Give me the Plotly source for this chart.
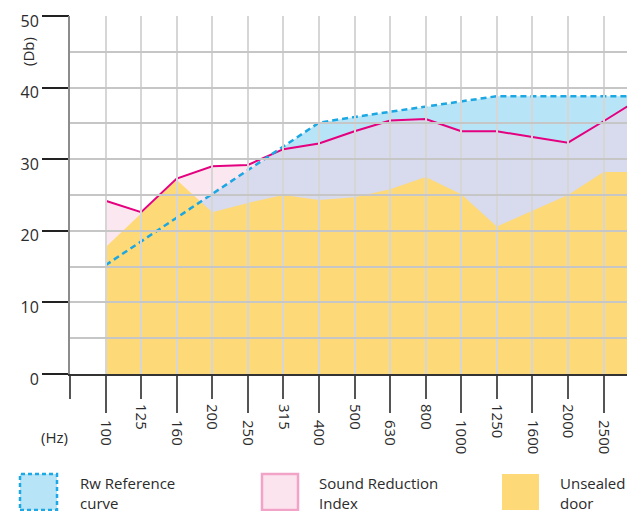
import plotly.graph_objects as go

# ---- data ----
freqs = ["100", "125", "160", "200", "250", "315", "400", "500", "630",
         "800", "1000", "1250", "1600", "2000", "2500", "3150"]
rw_reference = [15.2, 18.5, 21.8, 25.1, 28.4, 31.7, 35.1, 35.9, 36.6,
                37.3, 38.0, 38.8, 38.8, 38.8, 38.8, 38.8]
sound_reduction = [24.2, 22.6, 27.3, 29.0, 29.2, 31.4, 32.2, 33.9, 35.4,
                   35.6, 33.9, 33.9, 33.1, 32.3, 35.3, 38.4]
unsealed_door = [17.7, 22.4, 27.1, 22.6, 23.9, 25.0, 24.3, 24.7, 25.8,
                 27.5, 25.1, 20.6, 22.8, 25.0, 28.2, 28.2]
y_ticks = [0, 10, 20, 30, 40, 50]
legend_labels = ["Rw Reference<br>curve", "Sound Reduction<br>Index", "Unsealed<br>door"]

# ---- geometry (screen pixels) ----
W, H = 627, 511
L, T = 70, 16
BOTTOM = 374
R = 0
B = H - BOTTOM
PW, PH = W - L - R, H - T - B
FONT = "Open Sans"
idx = list(range(len(freqs)))
x_range = [-1, -1 + PW / 35.57]


def px(x):
    return (x - L) / PW


def py(y):
    return (BOTTOM - y) / PH


BLUE_FILL = "#b8e4f8"
PINK_FILL = "rgba(247,207,225,0.5)"
YELLOW = "#fdd978"
PINK_LINE = "#e4007f"
BLUE_LINE = "#1aa7e2"
TEXT = "#2b2b2b"

fig = go.Figure()
fig.add_trace(go.Scatter(x=idx, y=rw_reference, mode="none", fill="tozeroy",
                         fillcolor=BLUE_FILL, hoverinfo="skip"))
fig.add_trace(go.Scatter(x=idx, y=sound_reduction, mode="none", fill="tozeroy",
                         fillcolor=PINK_FILL, hoverinfo="skip"))
fig.add_trace(go.Scatter(x=idx, y=unsealed_door, mode="none", fill="tozeroy",
                         fillcolor=YELLOW, hoverinfo="skip"))
fig.add_trace(go.Scatter(x=idx, y=sound_reduction, mode="lines",
                         line=dict(color=PINK_LINE, width=2), hoverinfo="skip"))
fig.add_trace(go.Scatter(x=idx, y=rw_reference, mode="lines",
                         line=dict(color=BLUE_LINE, width=2.5, dash="6px,4px"),
                         hoverinfo="skip"))
# empty trace so that the overlay grid subplot (drawn above the fills) exists
fig.add_trace(go.Scatter(x=[], y=[], xaxis="x2", yaxis="y2", mode="lines",
                         hoverinfo="skip"))

even = [i for i in idx if i % 2 == 0]
all_ticks = [-1] + idx
odd_text = [""] + [f if i % 2 == 1 else "" for i, f in zip(idx, freqs)]

tickfont = dict(family=FONT, size=15, color=TEXT)

fig.update_layout(
    width=W, height=H,
    margin=dict(l=L, r=R, t=T, b=B),
    paper_bgcolor="white", plot_bgcolor="rgba(0,0,0,0)",
    showlegend=False,
    font=dict(family=FONT, size=15, color=TEXT),
    xaxis=dict(range=x_range, showgrid=False, zeroline=False, showline=False,
               tickmode="array", tickvals=even, ticktext=[freqs[i] for i in even],
               ticks="outside", ticklen=38, tickwidth=2, tickcolor="#555555",
               tickangle=90, tickfont=tickfont, ticklabelstandoff=4),
    yaxis=dict(range=[0, 50], showgrid=False, zeroline=False, showline=False,
               tickmode="array", tickvals=y_ticks,
               ticks="outside", ticklen=27, tickwidth=2, tickcolor="#222222",
               tickfont=dict(family=FONT, size=16, color=TEXT), ticklabelshift=5),
    xaxis2=dict(range=x_range, anchor="y2", domain=[0, 1],
                showgrid=True, gridcolor="#d6d6d6", gridwidth=2,
                zeroline=False, showline=True, linecolor="#333333", linewidth=2,
                tickmode="array", tickvals=all_ticks, ticktext=odd_text,
                ticks="outside", ticklen=23, tickwidth=2, tickcolor="#555555",
                tickangle=90, tickfont=tickfont, ticklabelstandoff=2),
    yaxis2=dict(range=[0, 50], anchor="x2", domain=[0, 1],
                showgrid=True, gridcolor="#c6c6c6", gridwidth=1.5, dtick=5,
                zeroline=False, showline=True, linecolor="#8c8c8c", linewidth=2,
                showticklabels=False, ticks=""),
)

# axis unit labels
fig.add_annotation(text="(Db)", xref="paper", yref="paper", x=px(28), y=py(52),
                   xanchor="center", yanchor="middle",
                   textangle=-90, showarrow=False, font=dict(family=FONT, size=15, color=TEXT))
fig.add_annotation(text="(Hz)", xref="paper", yref="paper", x=px(54), y=py(437),
                   xanchor="center", yanchor="middle",
                   showarrow=False, font=dict(family=FONT, size=15, color=TEXT))

# legend
boxes = [
    dict(x0=20, x1=57, fill=BLUE_FILL, line=dict(color="#1ca8e4", width=2.5, dash="4px,3px")),
    dict(x0=262, x1=298, fill="#fce4ee", line=dict(color="#f2a3c8", width=2.5)),
    dict(x0=502, x1=539, fill=YELLOW, line=dict(width=0)),
]
text_x = [78, 317, 558]
for b, label, tx in zip(boxes, legend_labels, text_x):
    fig.add_shape(type="rect", xref="paper", yref="paper",
                  x0=px(b["x0"]), x1=px(b["x1"]), y0=py(510), y1=py(474),
                  fillcolor=b["fill"], line=b["line"], layer="above")
    fig.add_annotation(text=label, xref="paper", yref="paper", x=px(tx), y=py(493),
                       xanchor="left", yanchor="middle", align="left", showarrow=False,
                       font=dict(family=FONT, size=15, color=TEXT))

fig.write_html(
    "out.html",
    config={"displayModeBar": False},
    post_script="document.body.style.margin='0';"
                "document.body.style.overflow='hidden';"
                "document.documentElement.style.overflow='hidden';",
)
